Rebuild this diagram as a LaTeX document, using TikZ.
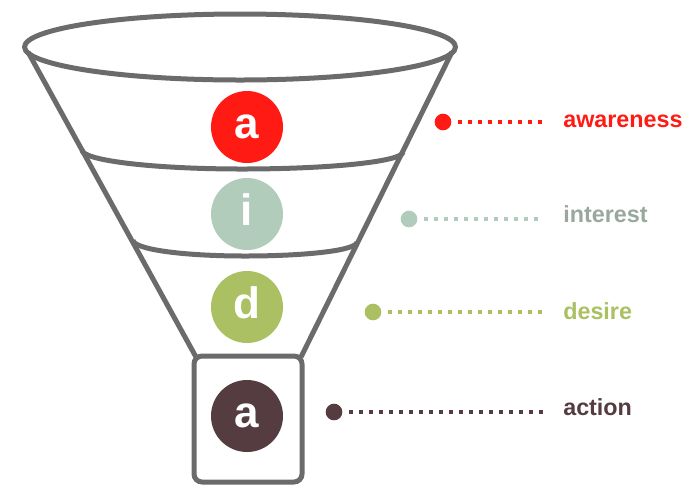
\documentclass[tikz,border=0pt]{standalone}
\usepackage{fontspec}
\setmainfont{Liberation Sans}
\usepackage{tikz}
\usetikzlibrary{positioning}
\definecolor{funnelgray}{HTML}{6B6B6B}
\definecolor{awarecol}{HTML}{FF1A14}
\definecolor{interestcol}{HTML}{B2CCBB}
\definecolor{interesttext}{HTML}{98A89C}
\definecolor{desirecol}{HTML}{AAC062}
\definecolor{actioncol}{HTML}{553C40}
\tikzstyle{funnel} = [line width=3.75pt, draw=funnelgray, line join=round]
\tikzstyle{stage} = [circle, inner sep=0pt, minimum size=54pt, text=white, font=\bfseries\fontsize{33}{33}\selectfont, text height=17pt, text depth=0pt]
\tikzstyle{marker} = [circle, inner sep=0pt, minimum size=12.5pt]
\tikzstyle{stagename} = [inner sep=0pt, anchor=base west, font=\bfseries\fontsize{17.5}{17.5}\selectfont]
\tikzstyle{leader} = [line width=2.8pt, dash pattern=on 2.8pt off 4.7pt, shorten <=5pt, shorten >=15pt]

\begin{document}
\begin{tikzpicture}[x=0.75pt, y=-0.75pt]
	\useasboundingbox (0,0) rectangle (691,487);
	% funnel
	\draw [funnel] (240,47) ellipse [x radius=161.6pt, y radius=24.75pt];
	\draw [funnel] (28,52) -- (196,357);
	\draw [funnel] (452,52) -- (301,357);
	\draw [funnel] (82,150) .. controls (82,160.5) and (153.7,169) .. (242,169)
		.. controls (330.9,169) and (403,161.4) .. (403,152);
	\draw [funnel] (133,240) .. controls (133,249.4) and (183.2,256) .. (245,256)
		.. controls (306.8,256) and (357,250.3) .. (357,242);
	\draw [funnel, rounded corners=6pt] (194,356) rectangle (302,482);
	% stages
	\node (Awareness) [stage, fill=awarecol] at (247,127) {a};
	\node (Interest) [stage, fill=interestcol] at (247,214) {i};
	\node (Desire) [stage, fill=desirecol] at (247,307) {d};
	\node (Action) [stage, fill=actioncol] at (247,416) {a};
	% legend
	\node (AwarenessDot) [marker, fill=awarecol] at (443,122) {};
	\node (InterestDot) [marker, fill=interestcol] at (409,219) {};
	\node (DesireDot) [marker, fill=desirecol] at (373,312) {};
	\node (ActionDot) [marker, fill=actioncol] at (334,412) {};
	\node (AwarenessText) [stagename, text=awarecol] at (563,127) {awareness};
	\node (InterestText) [stagename, text=interesttext] at (563,222) {interest};
	\node (DesireText) [stagename, text=desirecol] at (563,319) {desire};
	\node (ActionText) [stagename, text=actioncol] at (563,415) {action};
	\draw [leader, draw=awarecol] (AwarenessDot) -- (AwarenessDot -| AwarenessText.west);
	\draw [leader, draw=interestcol] (InterestDot) -- (InterestDot -| InterestText.west);
	\draw [leader, draw=desirecol] (DesireDot) -- (DesireDot -| DesireText.west);
	\draw [leader, draw=actioncol] (ActionDot) -- (ActionDot -| ActionText.west);
\end{tikzpicture}
\end{document}
